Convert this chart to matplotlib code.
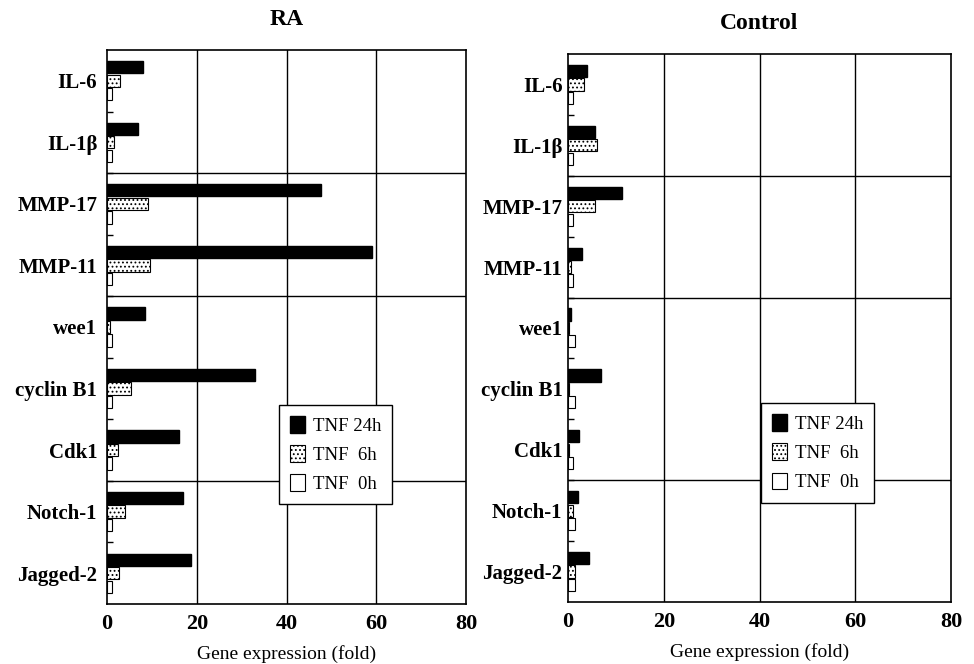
import numpy as np
import matplotlib
matplotlib.use("Agg")
import matplotlib.pyplot as plt

plt.rcParams['font.family'] = ['Liberation Serif', 'DejaVu Serif']
plt.rcParams['hatch.linewidth'] = 0.8

# 基因和数值（从图上读出来的）
genes = ["IL-6", "IL-1β", "MMP-17", "MMP-11", "wee1", "cyclin B1", "Cdk1", "Notch-1", "Jagged-2"]
series = ["TNF 24h", "TNF  6h", "TNF  0h"]

ra_24h = [8.0, 7.0, 47.7, 59.0, 8.5, 33.0, 16.0, 16.9, 18.7]
ra_6h = [2.9, 1.5, 9.2, 9.6, 0.6, 5.3, 2.5, 4.0, 2.7]
ra_0h = [1.0, 1.0, 1.0, 1.0, 1.0, 1.0, 1.0, 1.0, 1.0]

ctrl_24h = [4.0, 5.6, 11.2, 2.9, 0.6, 6.9, 2.3, 2.0, 4.4]
ctrl_6h = [3.3, 6.1, 5.6, 0.7, 0.3, 0.3, 0.3, 1.0, 1.5]
ctrl_0h = [1.0, 1.0, 1.0, 1.0, 1.5, 1.5, 1.0, 1.5, 1.5]

xticks = [0, 20, 40, 60, 80]
separators = [1.5, 3.5, 6.5]

fig = plt.figure(figsize=(9.74, 6.64), dpi=100)
ax1 = fig.add_axes([0.1099, 0.0904, 0.3686, 0.8343])
ax2 = fig.add_axes([0.5832, 0.0934, 0.3932, 0.8253])


def draw(ax, v24, v6, v0, title, leg_anchor, ypad):
    y = np.arange(len(genes))
    h = 0.2
    b1 = ax.barh(y - 0.22, v24, height=h, color="black", edgecolor="black", label=series[0])
    b2 = ax.barh(y, v6, height=h, color="white", edgecolor="black", hatch="....", lw=0.8, label=series[1])
    b3 = ax.barh(y + 0.22, v0, height=h, color="white", edgecolor="black", lw=0.8, label=series[2])
    ax.set_xlim(0, 80)
    ax.set_ylim(len(genes) - 0.5, -0.5)
    ax.set_xticks(xticks)
    ax.set_xticklabels([str(t) for t in xticks], fontsize=16, fontweight="bold")
    ax.set_yticks(y)
    ax.set_yticklabels(genes, fontsize=15, fontweight="bold")
    ax.set_yticks(np.arange(len(genes) - 1) + 0.5, minor=True)
    ax.tick_params(axis="y", which="minor", direction="in", length=4, width=1)
    ax.tick_params(axis="x", length=0, pad=7)
    ax.tick_params(axis="y", which="major", length=0, pad=ypad)
    for xv in xticks[1:-1]:
        ax.axvline(xv, color="black", lw=1.0, zorder=0)
    for s in separators:
        ax.axhline(s, color="black", lw=1.0, zorder=0)
    for sp in ax.spines.values():
        sp.set_linewidth(1.2)
    ax.set_title(title, fontsize=17, fontweight="bold", pad=18)
    ax.set_xlabel("Gene expression (fold)", fontsize=14, labelpad=8)
    leg = ax.legend(handles=[b1, b2, b3], loc="upper left", bbox_to_anchor=leg_anchor,
                    fontsize=13.5, frameon=True, fancybox=False, edgecolor="black",
                    framealpha=1, handlelength=0.8, handleheight=1.0, handletextpad=0.4,
                    borderpad=0.6, labelspacing=0.55, borderaxespad=0)
    leg.get_frame().set_linewidth(1.0)


draw(ax1, ra_24h, ra_6h, ra_0h, "RA", (0.479, 0.36), 7)
draw(ax2, ctrl_24h, ctrl_6h, ctrl_0h, "Control", (0.504, 0.363), 4)

fig.savefig("out.png", dpi=100)
